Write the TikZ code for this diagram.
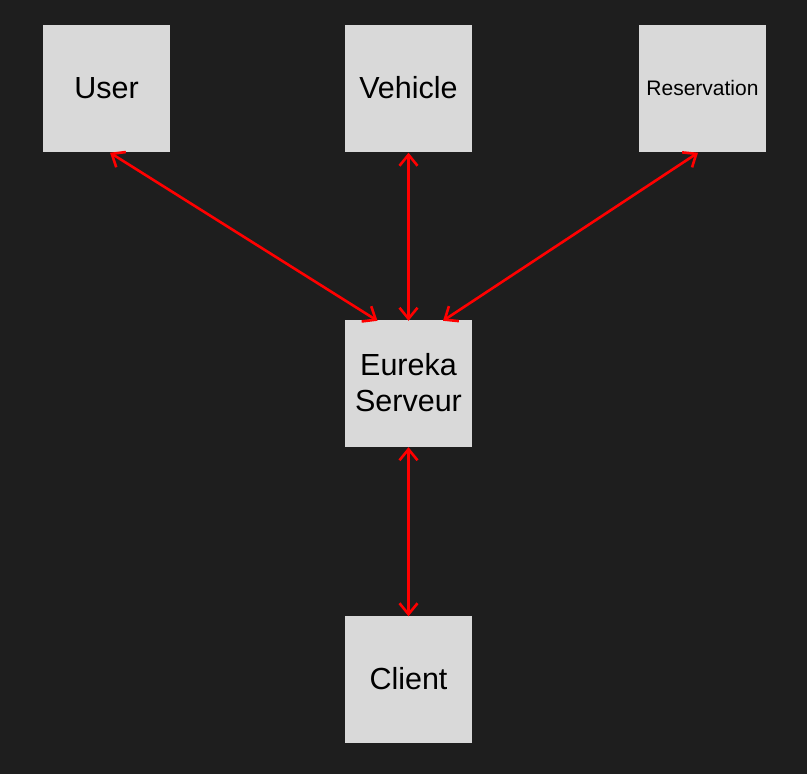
\documentclass[tikz,border=0pt]{standalone}
\usepackage{fontspec}
\setmainfont{Liberation Sans}
\usetikzlibrary{arrows.meta}
\definecolor{bg}{HTML}{1E1E1E}
\definecolor{boxgray}{HTML}{D9D9D9}
\definecolor{linkred}{HTML}{FF0000}
\tikzset{
  svc/.style={fill=boxgray, draw=none, minimum width=127pt, minimum height=127pt, inner sep=0pt, text=black, font=\fontsize{30.5}{36}\selectfont, align=center},
  link/.style={draw=linkred, line width=2.6pt, {Straight Barb[length=11pt,width=18pt]}-{Straight Barb[length=11pt,width=18pt]}}
}
\begin{document}
\begin{tikzpicture}[x=1pt,y=-1pt]
\fill[bg] (0,0) rectangle (807,774);
\useasboundingbox (0,0) rectangle (807,774);
\node[svc] (user) at (106.5,88) {User};
\node[svc] (vehicle) at (408.5,88) {Vehicle};
\node[svc, font=\fontsize{21}{24}\selectfont] (resa) at (702.5,88) {Reservation};
\node[svc] (eureka) at (408.5,383) {Eureka\\Serveur};
\node[svc] (client) at (408.5,679) {Client};
\draw[link] ([xshift=3.5pt,yshift=-1pt]user.south) -- ([xshift=-31pt,yshift=-1.5pt]eureka.north);
\draw[link] ([yshift=-1pt]vehicle.south) -- ([yshift=-1.5pt]eureka.north);
\draw[link] ([xshift=-4.5pt,yshift=-1pt]resa.south) -- ([xshift=34.5pt,yshift=-1.5pt]eureka.north);
\draw[link] ([yshift=-0.5pt]eureka.south) -- ([yshift=-1pt]client.north);
\end{tikzpicture}
\end{document}
